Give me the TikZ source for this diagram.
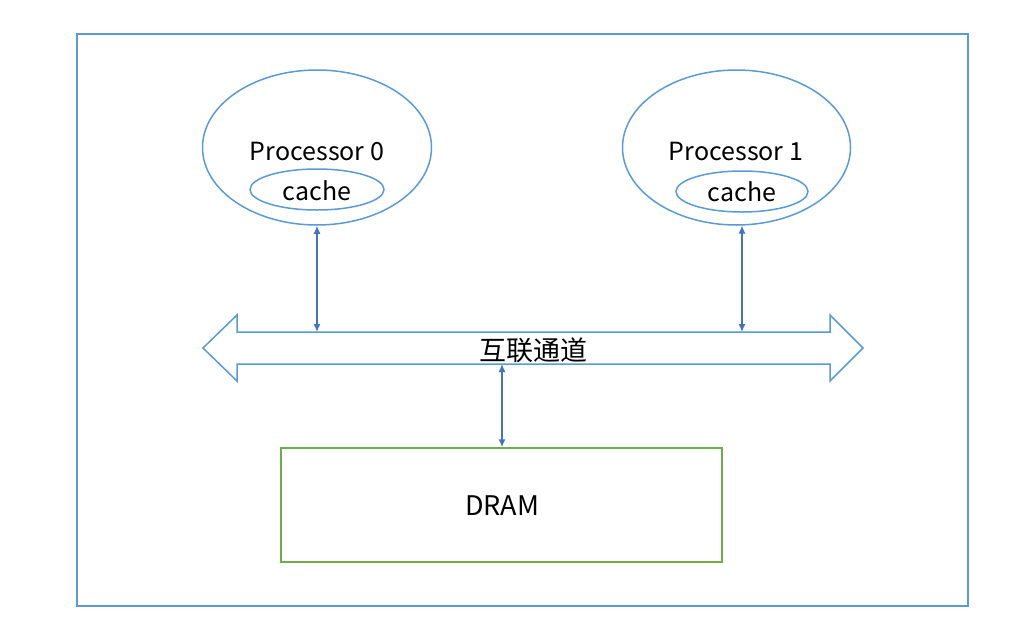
\documentclass[tikz,border=0pt]{standalone}
\usepackage{fontspec}
\setmainfont{Noto Sans CJK SC}
\usetikzlibrary{arrows.meta,shapes.geometric}
\definecolor{shapeblue}{HTML}{5B9BD5}
\definecolor{linkblue}{HTML}{4472C4}
\definecolor{dramgreen}{HTML}{70AD47}
\tikzset{
  procell/.style={ellipse, draw=shapeblue, line width=1.5pt, inner sep=0pt},
  lbl/.style={font=\fontsize{25}{28}\selectfont, inner sep=0pt},
  biglbl/.style={font=\fontsize{27}{30}\selectfont, inner sep=0pt},
  link/.style={draw=linkblue, line width=1.4pt, {Latex[length=8pt,width=7pt]}-{Latex[length=8pt,width=7pt]}},
}
\begin{document}
\begin{tikzpicture}[x=1pt,y=-1pt]
\useasboundingbox (0,0) rectangle (1031,643);
\fill[white] (0,0) rectangle (1031,643);
\node[draw=shapeblue, line width=1.5pt, minimum width=891pt, minimum height=572pt, inner sep=0pt] (frame) at (522.5,320) {};
% processors
\node[procell, minimum width=229pt, minimum height=155pt] (p0) at (317,147.5) {};
\node[procell, minimum width=134pt, minimum height=41pt] (c0) at (317,189.5) {};
\node[lbl] (t0) at (317,151) {Processor 0};
\node[lbl] (tc0) at (317,191) {cache};
\node[procell, minimum width=228pt, minimum height=155pt] (p1) at (736.5,147.5) {};
\node[procell, minimum width=132pt, minimum height=41pt] (c1) at (742,191.5) {};
\node[lbl] (t1) at (736,151) {Processor 1};
\node[lbl] (tc1) at (742,192) {cache};
% bus
\draw[shapeblue, line width=1.5pt, fill=white]
  (203,348) -- (237,315) -- (237,332) -- (830,332) -- (830,315) -- (863,348)
  -- (830,381) -- (830,364) -- (237,364) -- (237,381) -- cycle;
\node[biglbl] (bus) at (533,350) {互联通道};
\coordinate (b0) at (317,332);
\coordinate (b1) at (742,332);
\coordinate (b2) at (502,364);
% DRAM
\node[draw=dramgreen, line width=1.5pt, minimum width=441pt, minimum height=114pt, inner sep=0pt] (dram) at (501.5,505) {};
\node[biglbl] (dt) at (502,506) {DRAM};
% links
\draw[link] (p0.south) -- (b0);
\draw[link] (742,225.5) -- (b1);
\draw[link] (b2) -- (dram.north -| b2);
\end{tikzpicture}
\end{document}
